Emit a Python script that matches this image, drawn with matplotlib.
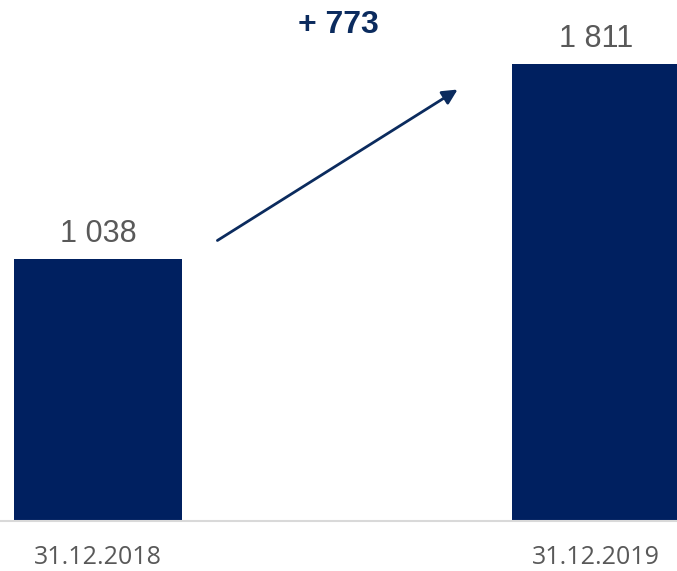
import matplotlib
matplotlib.use("Agg")
import matplotlib.pyplot as plt

categories = ["31.12.2018", "31.12.2019"]
values = [1038, 1811]
value_labels = ["1 038", "1 811"]

bar_color = "#002060"
text_gray = "#595959"
arrow_color = "#0B2B5E"

fig = plt.figure(figsize=(6.77, 5.71), dpi=100)
ax = fig.add_axes([0, 50 / 571, 1, 521 / 571])

x = list(range(len(categories)))
ax.bar(x, values, width=0.337, color=bar_color, zorder=2)
ax.set_xlim(-0.197, 1.163)
ax.set_ylim(0, 2065)

for s in ["top", "right", "left"]:
    ax.spines[s].set_visible(False)
ax.spines["bottom"].set_color("#D9D9D9")
ax.spines["bottom"].set_linewidth(1.5)
ax.set_yticks([])
ax.set_xticks(x)
ax.set_xticklabels(categories, color=text_gray, fontsize=18,
                   family=["Open Sans", "DejaVu Sans"])
ax.tick_params(axis="x", length=0, pad=17)

for xi, v, lab in zip(x, values, value_labels):
    ax.annotate(lab, (xi, v), xytext=(0, 7), textcoords="offset points",
                ha="center", va="bottom", fontsize=22, color=text_gray,
                family=["Liberation Sans", "DejaVu Sans"])

diff = values[1] - values[0]
ax.annotate("", xy=(0.727, 1716), xytext=(0.235, 1106),
            arrowprops=dict(arrowstyle="-|>,head_length=0.9,head_width=0.45",
                            color=arrow_color, lw=2))
ax.text(0.482, 1966, f"+ {diff}", ha="center", va="center", fontsize=23,
        fontweight="bold", color=arrow_color,
        family=["Liberation Sans", "DejaVu Sans"])

fig.savefig("out.png", dpi=100)
